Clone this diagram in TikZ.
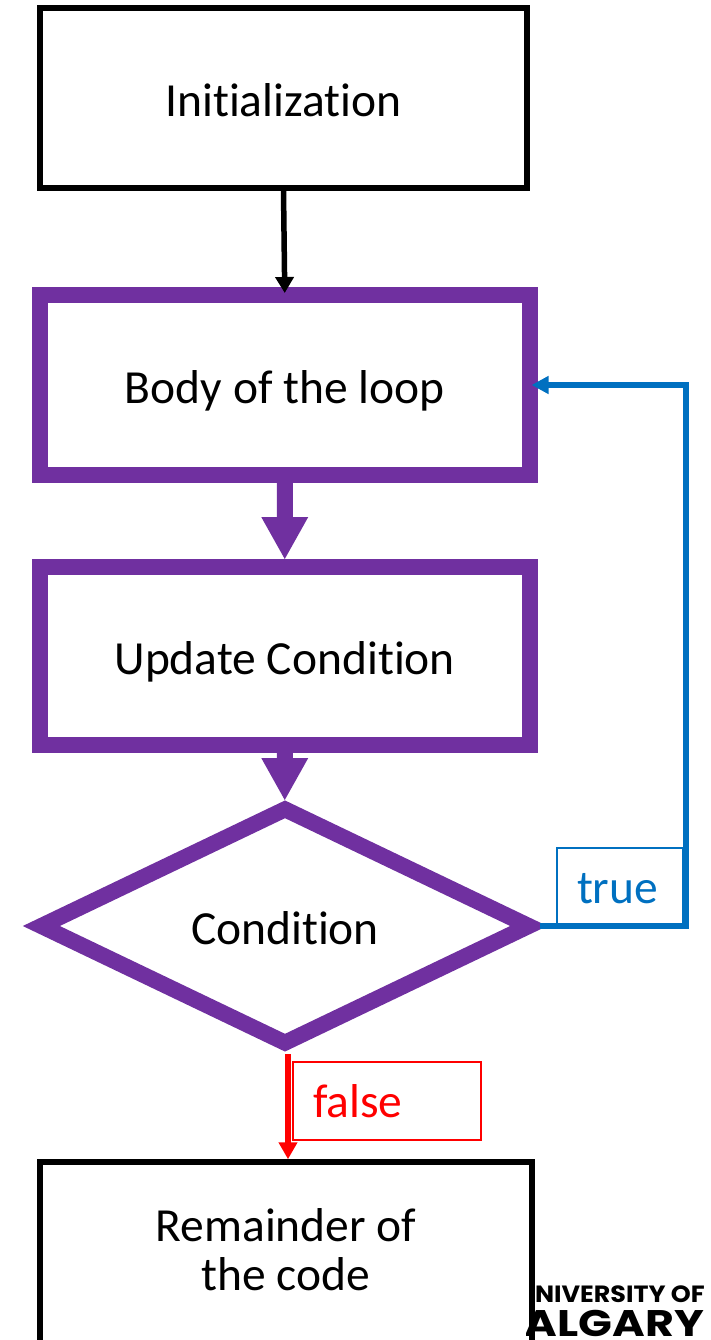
\documentclass[tikz,border=0pt]{standalone}
\usepackage{fontspec}
\setmainfont{Carlito}[Ligatures=NoCommon]
\newfontfamily\logofont{Poppins}
\usetikzlibrary{arrows.meta,shapes.geometric}
\definecolor{ppurple}{HTML}{7030A0}
\definecolor{pblue}{HTML}{0070C0}
\definecolor{pred}{HTML}{FF0000}
\begin{document}
\begin{tikzpicture}[x=1pt,y=-1pt,
  bigtxt/.style={font=\fontsize{47.5}{49}\selectfont},
  blackbox/.style={draw=black, line width=5.5pt, rectangle, inner sep=0pt, bigtxt, text height=38pt, text depth=0pt},
  purplebox/.style={draw=ppurple, line width=16pt, rectangle, inner sep=0pt, bigtxt, text height=36pt, text depth=0pt},
  lblbox/.style={rectangle, line width=1.2pt, inner xsep=20pt, inner ysep=0pt, align=left, bigtxt, text height=32pt, text depth=0pt},
  blockarrow/.style={fill=ppurple},
  logotxt/.style={inner sep=0pt, anchor=base east}
]
\clip (0,0) rectangle (710,1340);
% boxes
\node[blackbox, minimum width=487pt, minimum height=180pt] (init) at (283.5,98) {Initialization};
\node[purplebox, minimum width=489.5pt, minimum height=180pt] (body) at (284.75,385) {Body of the loop};
\node[purplebox, minimum width=489.5pt, minimum height=178pt] (upd) at (284.75,656) {Update Condition};
\node[diamond, draw=ppurple, line width=16pt, inner sep=0pt, minimum width=494pt, minimum height=240pt] (cond) at (285,926) {};
\node[bigtxt, text height=36pt, text depth=0pt, inner sep=0pt] (condtxt) at (cond.center) {Condition};
% logo (partly hidden)
\begin{scope}
  \clip (531,1260) rectangle (710,1306);
  \node[logotxt, font=\logofont\bfseries\fontsize{23.5}{23.5}\selectfont] (logo1) at (705,1302) {\scalebox{1.08}[1]{UNIVERSITY OF}};
\end{scope}
\begin{scope}
  \clip (526,1306) rectangle (710,1340);
  \node[logotxt, font=\logofont\bfseries\fontsize{37}{37}\selectfont] (logo2) at (704,1336) {\scalebox{1.2}[1]{CALGARY}};
\end{scope}
\node[draw=black, line width=5.5pt, rectangle, inner sep=0pt, minimum width=492pt, minimum height=210pt] (rem) at (286,1267) {};
\node[bigtxt, align=center, inner sep=0pt] (remtxt) at (286,1250) {Remainder of\\the code};
% labels
\node[lblbox, draw=pblue, text=pblue, text width=86pt, minimum height=78pt] (truel) at (620,887) {true};
\node[lblbox, draw=pred, text=pred, text width=148pt, minimum height=78pt] (falsel) at (387,1101) {false};
% connectors
\draw[line width=5.5pt, -{Triangle[width=18pt,length=16pt]}] (init.south) -- ([yshift=-6pt]body.north);
\fill[blockarrow] (body.south) ++(-8,0) -- ++(0,34) -- ++(-15.5,0) -- ++(23.5,42) -- ++(23.5,-42) -- ++(-15.5,0) -- ++(0,-34) -- cycle;
\fill[blockarrow] (upd.south) ++(-8,0) -- ++(0,5) -- ++(-15.5,0) -- ++(23.5,42) -- ++(23.5,-42) -- ++(-15.5,0) -- ++(0,-5) -- cycle;
\coordinate (tcorner) at (686,926);
\draw[pblue, line width=5.5pt, -{Triangle[width=17pt,length=17pt]}, shorten >=-6pt] (cond.east) -- (cond.east -| tcorner) |- (body.east);
\draw[pred, line width=6pt, -{Triangle[width=18pt,length=17pt]}] ([xshift=3pt]cond.south) -- ([xshift=3pt]cond.south |- rem.north);
\end{tikzpicture}
\end{document}
